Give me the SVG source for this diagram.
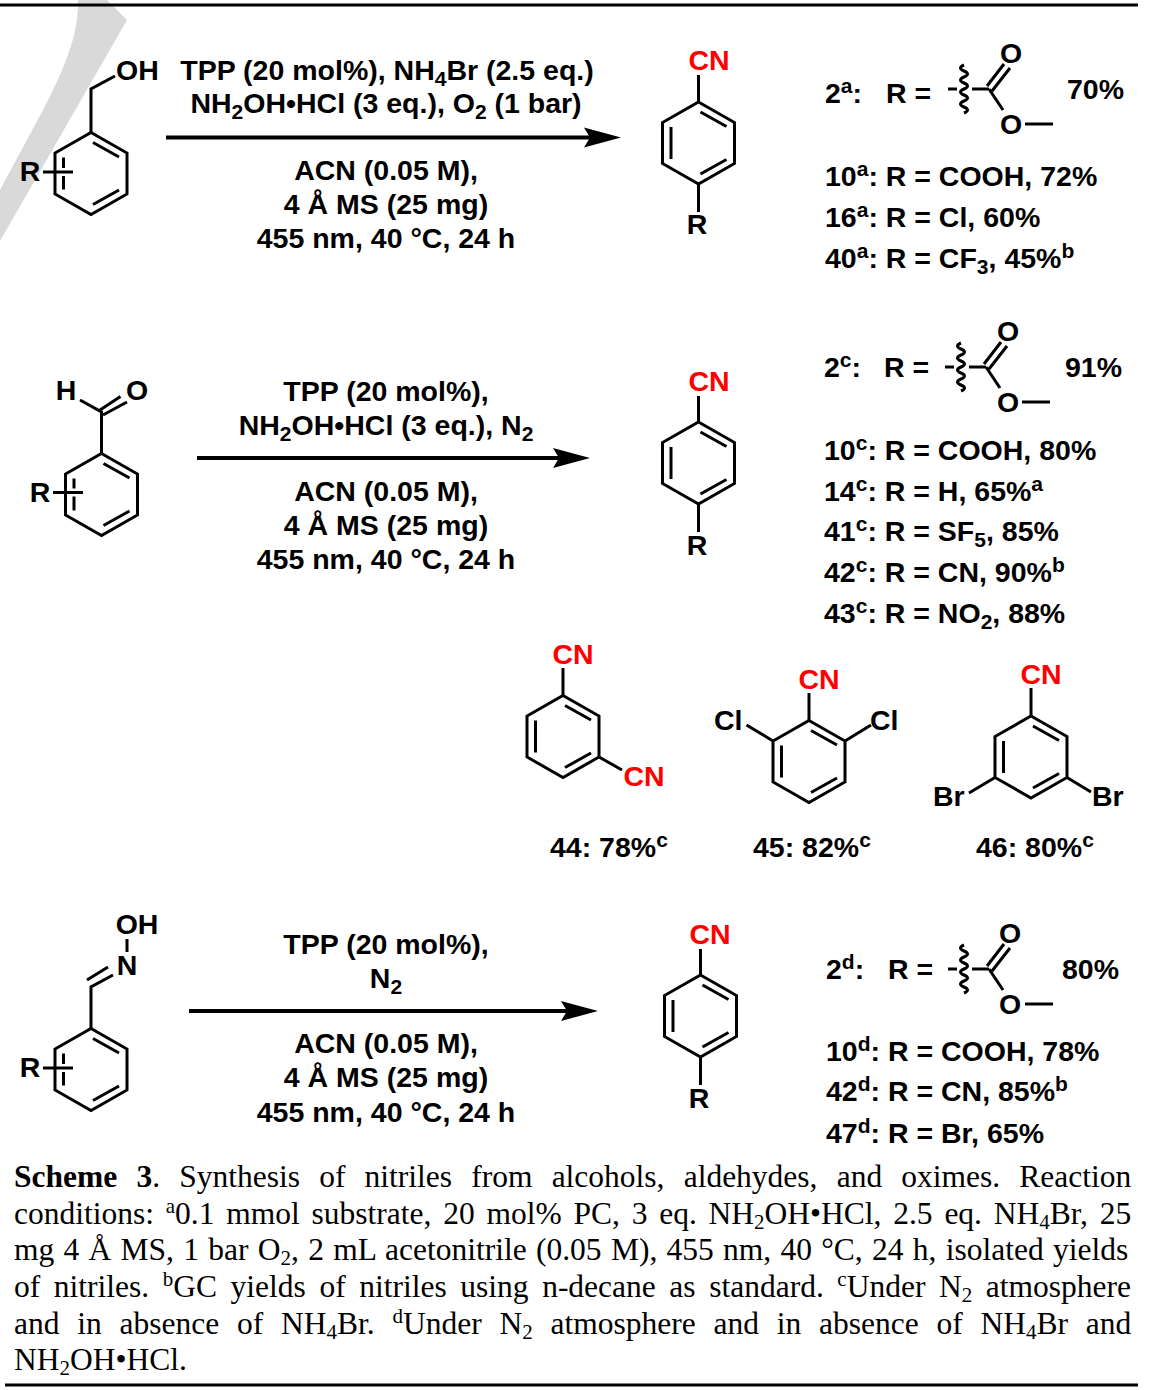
<svg xmlns="http://www.w3.org/2000/svg" xmlns:xlink="http://www.w3.org/1999/xlink" width="1152" height="1390" viewBox="0 0 1152 1390">
<style>
text{font-family:"Liberation Sans",Arial,sans-serif;font-weight:700;font-size:28.5px;fill:#000}
.m{text-anchor:middle}
.cn{fill:#f00;text-anchor:middle}
.b{fill:none;stroke:#000;stroke-width:3;stroke-linecap:butt;stroke-linejoin:miter}
.cap{font-family:"Liberation Serif","Times New Roman",serif;font-weight:400;font-size:31.5px}
.cap .h{font-weight:700}
.u{font-size:21px}
.d{font-size:21px}
.arrow{fill:none;stroke:#000;stroke-width:4;marker-end:url(#head)}
.rule{fill:none;stroke:#000;stroke-width:3}
</style>
<defs>
<marker id="head" markerUnits="userSpaceOnUse" markerWidth="40" markerHeight="24" viewBox="0 -12 40 24" refX="6" refY="0" orient="auto"><path d="M0,-10L37,0L0,10L6,0Z" fill="#000"/></marker>
<g id="ring" class="b"><path d="M0,-41L36,-20.500V20.500L0,41L-36,20.500V-20.500Z"/><path d="M2,-31L28,-16.500M-27.500,-16V16M2,31L28,16.500"/></g>
<g id="ester" class="b"><path d="M-41,0H-32M-17,0H0M0,0L14,21M36,35H64M-2,-3L15,-25M3,2L21,-21"/><path d="M-25,-24q-7,3 0,6t0,6t0,6t0,6t0,6t0,6t0,6t0,6"/></g>
</defs>
<path id="watermark" d="M78,0C79,30 68,62 43,110L0,190V241L127,20L107,0Z" fill="#d9d9d9"/>
<g id="rules"><path class="rule" d="M0,5H1138M5,1385H1138"/></g>
<g id="connectors">
<path id="arrow1" class="arrow" d="M166,137.500H590"/>
<path id="arrow2" class="arrow" d="M197,458H559"/>
<path id="arrow3" class="arrow" d="M189,1011H567"/>
</g>
<g id="substrate-alcohol">
<use xlink:href="#ring" href="#ring" x="91" y="173.500"/>
<path d="M60,172H66" stroke="#fff" stroke-width="8"/>
<path class="b" d="M43,172H73M91,132.500V89L115,76"/>
<text x="116" y="79.500">OH</text><text class="m" x="30" y="180.500">R</text>
</g>
<g id="substrate-aldehyde">
<use xlink:href="#ring" href="#ring" x="101.500" y="494.500"/>
<path d="M70,492.500H76" stroke="#fff" stroke-width="8"/>
<path class="b" d="M53,492.500H83M101.500,453.500V412L80,400M100,410L120.500,396.500M103,415L127,402"/>
<text class="m" x="66" y="400">H</text><text class="m" x="137" y="400">O</text><text class="m" x="40" y="502">R</text>
</g>
<g id="substrate-oxime">
<use xlink:href="#ring" href="#ring" x="91" y="1069.500"/>
<path d="M60,1068H66" stroke="#fff" stroke-width="8"/>
<path class="b" d="M43,1068H73M91,1028.500V987L113,975M87,980L108,967M127,939V952"/>
<text class="m" x="127" y="975">N</text><text class="m" x="137" y="934">OH</text><text class="m" x="30" y="1077">R</text>
</g>
<g id="conditions-1">
<text class="m" x="387" y="79.500">TPP (20 mol%), NH<tspan class="d" dy="6">4</tspan><tspan dy="-6">Br (2.5 eq.)</tspan></text>
<text class="m" x="386" y="113">NH<tspan class="d" dy="6">2</tspan><tspan dy="-6">OH•HCl (3 eq.), O</tspan><tspan class="d" dy="6">2</tspan><tspan dy="-6"> (1 bar)</tspan></text>
<text class="m" x="386" y="179.500">ACN (0.05 M),</text>
<text class="m" x="386" y="214">4 Å MS (25 mg)</text>
<text class="m" x="386" y="248">455 nm, 40 °C, 24 h</text>
</g>
<g id="conditions-2">
<text class="m" x="386" y="400.500">TPP (20 mol%),</text>
<text class="m" x="386" y="434.500">NH<tspan class="d" dy="6">2</tspan><tspan dy="-6">OH•HCl (3 eq.), N</tspan><tspan class="d" dy="6">2</tspan></text>
<text class="m" x="386" y="500.500">ACN (0.05 M),</text>
<text class="m" x="386" y="534.500">4 Å MS (25 mg)</text>
<text class="m" x="386" y="569">455 nm, 40 °C, 24 h</text>
</g>
<g id="conditions-3">
<text class="m" x="386" y="953.500">TPP (20 mol%),</text>
<text class="m" x="386" y="988">N<tspan class="d" dy="6">2</tspan></text>
<text class="m" x="386" y="1053">ACN (0.05 M),</text>
<text class="m" x="386" y="1087">4 Å MS (25 mg)</text>
<text class="m" x="386" y="1122">455 nm, 40 °C, 24 h</text>
</g>
<g id="product-1">
<use xlink:href="#ring" href="#ring" x="698.500" y="143"/>
<path class="b" d="M698.500,102V75M698.500,184V212"/>
<text class="cn" x="709" y="70">CN</text><text class="m" x="697" y="234">R</text>
</g>
<g id="product-2">
<use xlink:href="#ring" href="#ring" x="698.500" y="463"/>
<path class="b" d="M698.500,422V396M698.500,504V532"/>
<text class="cn" x="709" y="391">CN</text><text class="m" x="697" y="555">R</text>
</g>
<g id="product-3">
<use xlink:href="#ring" href="#ring" x="700.500" y="1016"/>
<path class="b" d="M700.500,975V949M700.500,1057V1085"/>
<text class="cn" x="710" y="943.500">CN</text><text class="m" x="699" y="1107.500">R</text>
</g>
<g id="results-1">
<text x="825" y="103">2<tspan class="u" dy="-10">a</tspan><tspan dy="10">:</tspan></text><text x="886" y="103">R =</text>
<use xlink:href="#ester" href="#ester" x="989" y="89"/>
<text class="m" x="1011" y="62.500">O</text><text class="m" x="1011" y="133.500">O</text>
<text x="1067" y="98.500">70%</text>
<text x="825" y="185.500">10<tspan class="u" dy="-10">a</tspan><tspan dy="10">: R = COOH, 72%</tspan></text>
<text x="825" y="226.500">16<tspan class="u" dy="-10">a</tspan><tspan dy="10">: R = Cl, 60%</tspan></text>
<text x="825" y="267.500">40<tspan class="u" dy="-10">a</tspan><tspan dy="10">: R = CF</tspan><tspan class="d" dy="6">3</tspan><tspan dy="-6">, 45%</tspan><tspan class="u" dy="-10">b</tspan></text>
</g>
<g id="results-2">
<text x="824" y="377">2<tspan class="u" dy="-10">c</tspan><tspan dy="10">:</tspan></text><text x="884" y="377">R =</text>
<use xlink:href="#ester" href="#ester" x="986" y="367"/>
<text class="m" x="1008" y="340.500">O</text><text class="m" x="1008" y="411.500">O</text>
<text x="1065" y="377">91%</text>
<text x="824" y="459.500">10<tspan class="u" dy="-10">c</tspan><tspan dy="10">: R = COOH, 80%</tspan></text>
<text x="824" y="500.500">14<tspan class="u" dy="-10">c</tspan><tspan dy="10">: R = H, 65%</tspan><tspan class="u" dy="-10">a</tspan></text>
<text x="824" y="541">41<tspan class="u" dy="-10">c</tspan><tspan dy="10">: R = SF</tspan><tspan class="d" dy="6">5</tspan><tspan dy="-6">, 85%</tspan></text>
<text x="824" y="582">42<tspan class="u" dy="-10">c</tspan><tspan dy="10">: R = CN, 90%</tspan><tspan class="u" dy="-10">b</tspan></text>
<text x="824" y="623">43<tspan class="u" dy="-10">c</tspan><tspan dy="10">: R = NO</tspan><tspan class="d" dy="6">2</tspan><tspan dy="-6">, 88%</tspan></text>
</g>
<g id="compound-44">
<use xlink:href="#ring" href="#ring" x="563" y="736.500"/>
<path class="b" d="M563,695.500V668M599,757L622,770"/>
<text class="cn" x="573" y="663.500">CN</text><text class="cn" x="644" y="786">CN</text>
<text x="550" y="857">44: 78%<tspan class="u" dy="-10">c</tspan></text>
</g>
<g id="compound-45">
<use xlink:href="#ring" href="#ring" x="809" y="761.500"/>
<path class="b" d="M809,720.500V693M773,741L746.500,725M845,741L871,725"/>
<text class="cn" x="819" y="688.500">CN</text><text x="714" y="729.500">Cl</text><text x="870" y="729.500">Cl</text>
<text x="753" y="857">45: 82%<tspan class="u" dy="-10">c</tspan></text>
</g>
<g id="compound-46">
<use xlink:href="#ring" href="#ring" x="1031" y="757"/>
<path class="b" d="M1031,716V688M995,777.500L969,793M1067,777.500L1091,792"/>
<text class="cn" x="1041" y="683.500">CN</text><text x="933" y="806">Br</text><text x="1092" y="806">Br</text>
<text x="976" y="857">46: 80%<tspan class="u" dy="-10">c</tspan></text>
</g>
<g id="results-3">
<text x="826" y="978.500">2<tspan class="u" dy="-10">d</tspan><tspan dy="10">:</tspan></text><text x="888" y="978.500">R =</text>
<use xlink:href="#ester" href="#ester" x="989" y="969"/>
<text class="m" x="1010" y="942.500">O</text><text class="m" x="1010" y="1013.500">O</text>
<text x="1062" y="978.500">80%</text>
<text x="826" y="1060.500">10<tspan class="u" dy="-10">d</tspan><tspan dy="10">: R = COOH, 78%</tspan></text>
<text x="826" y="1101">42<tspan class="u" dy="-10">d</tspan><tspan dy="10">: R = CN, 85%</tspan><tspan class="u" dy="-10">b</tspan></text>
<text x="826" y="1143">47<tspan class="u" dy="-10">d</tspan><tspan dy="10">: R = Br, 65%</tspan></text>
</g>
<g id="caption" class="cap">
<text class="cap" x="14" y="1187" style="word-spacing:11.300px"><tspan class="h">Scheme 3</tspan>. Synthesis of nitriles from alcohols, aldehydes, and oximes. Reaction</text>
<text class="cap" x="14" y="1224" style="word-spacing:3.900px">conditions: <tspan class="u" dy="-11">a</tspan><tspan dy="11">0.1 mmol substrate, 20 mol% PC, 3 eq. NH</tspan><tspan class="d" dy="5">2</tspan><tspan dy="-5">OH•HCl, 2.5 eq. NH</tspan><tspan class="d" dy="5">4</tspan><tspan dy="-5">Br, 25</tspan></text>
<text class="cap" x="14" y="1260" style="word-spacing:1.400px">mg 4 Å MS, 1 bar O<tspan class="d" dy="5">2</tspan><tspan dy="-5">, 2 mL acetonitrile (0.05 M), 455 nm, 40 °C, 24 h, isolated yields</tspan></text>
<text class="cap" x="14" y="1297" style="word-spacing:5.700px">of nitriles. <tspan class="u" dy="-11">b</tspan><tspan dy="11">GC yields of nitriles using n-decane as standard. </tspan><tspan class="u" dy="-11">c</tspan><tspan dy="11">Under N</tspan><tspan class="d" dy="5">2</tspan><tspan dy="-5"> atmosphere</tspan></text>
<text class="cap" x="14" y="1334" style="word-spacing:9.900px">and in absence of NH<tspan class="d" dy="5">4</tspan><tspan dy="-5">Br. </tspan><tspan class="u" dy="-11">d</tspan><tspan dy="11">Under N</tspan><tspan class="d" dy="5">2</tspan><tspan dy="-5"> atmosphere and in absence of NH</tspan><tspan class="d" dy="5">4</tspan><tspan dy="-5">Br and</tspan></text>
<text class="cap" x="14" y="1370">NH<tspan class="d" dy="5">2</tspan><tspan dy="-5">OH•HCl.</tspan></text>
</g>
</svg>
